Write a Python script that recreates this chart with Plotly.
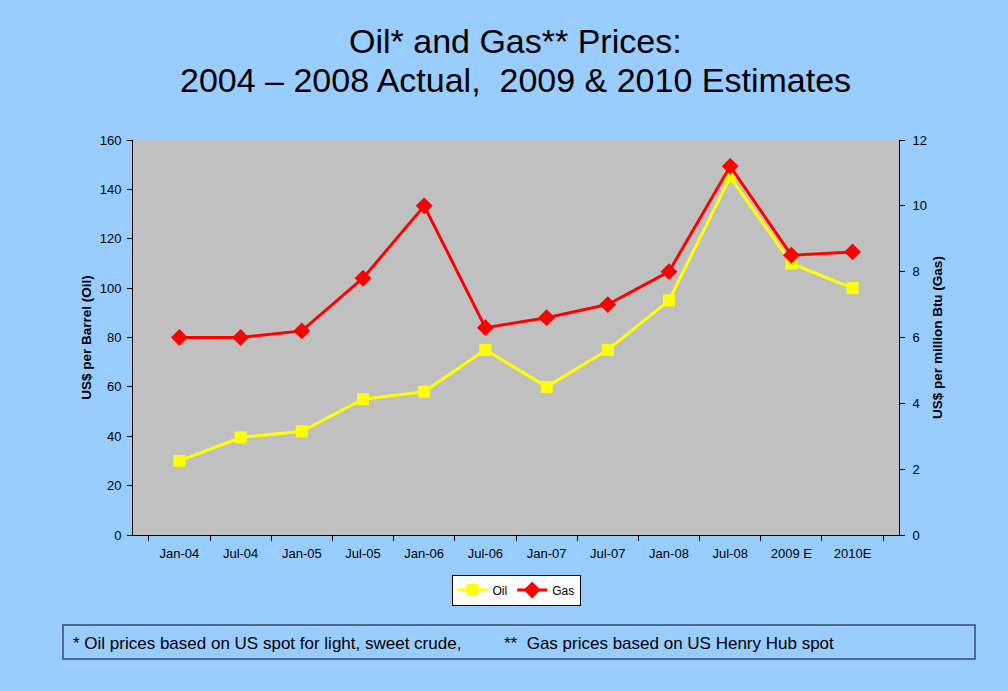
import plotly.graph_objects as go

categories = ["Jan-04", "Jul-04", "Jan-05", "Jul-05", "Jan-06", "Jul-06",
              "Jan-07", "Jul-07", "Jan-08", "Jul-08", "2009 E", "2010E"]
oil = [30, 39.5, 42, 55, 58, 75, 60, 75, 95, 145, 110, 100]
gas = [6.0, 6.0, 6.2, 7.8, 10.0, 6.3, 6.6, 7.0, 8.0, 11.2, 8.5, 8.6]

title_lines = ["Oil* and Gas** Prices:", "2004 – 2008 Actual,\u00a0 2009 & 2010 Estimates"]
footnotes = ["* Oil prices based on US spot for light, sweet crude,",
             "**\u00a0 Gas prices based on US Henry Hub spot"]

FONT = "Liberation Sans, Arial, sans-serif"
L, R, T, B = 133, 109, 140, 156
PW, PH = 1008 - L - R, 691 - T - B

def px_x(p):
    return (p - L) / PW

def px_y(p):
    return (691 - B - p) / PH

fig = go.Figure()
fig.add_trace(go.Scatter(
    x=categories, y=oil, name="Oil", mode="lines+markers",
    line=dict(color="#FFFF00", width=3),
    marker=dict(symbol="square", size=12, color="#FFFF00"),
    yaxis="y"))
fig.add_trace(go.Scatter(
    x=categories, y=gas, name="Gas", mode="lines+markers",
    line=dict(color="#FF0000", width=3),
    marker=dict(symbol="diamond", size=13, color="#FF0000"),
    yaxis="y2"))

fig.update_layout(
    width=1008, height=691,
    margin=dict(l=L, r=R, t=T, b=B, autoexpand=False),
    paper_bgcolor="#99CCFF", plot_bgcolor="#C0C0C0",
    font=dict(family=FONT, color="#000000", size=13),
    xaxis=dict(type="category", showgrid=False, showline=True, linecolor="#000000",
               linewidth=1, ticks="outside", tickson="boundaries", ticklen=5,
               tickcolor="#000000", tickfont=dict(size=13), zeroline=False,
               ticklabelstandoff=6),
    yaxis=dict(range=[0, 160], dtick=20, showgrid=False, showline=True,
               linecolor="#000000", ticks="outside", ticklen=5, tickcolor="#000000",
               tickfont=dict(size=13), zeroline=False, ticklabelstandoff=3,
               title=dict(text="<b>US$ per Barrel (Oil)</b>", font=dict(size=13.5), standoff=4)),
    yaxis2=dict(range=[0, 12], dtick=2, overlaying="y", side="right", showgrid=False,
                showline=True, linecolor="#000000", ticks="outside", ticklen=5,
                tickcolor="#000000", tickfont=dict(size=13), zeroline=False,
                ticklabelstandoff=5,
                title=dict(text="<b>US$ per million Btu (Gas)</b>", font=dict(size=13.5), standoff=6)),
    legend=dict(orientation="h", x=px_x(516), xanchor="center", y=px_y(590), yanchor="middle",
                bgcolor="#FFFFFF", bordercolor="#000000", borderwidth=1,
                font=dict(size=12), itemwidth=30, tracegroupgap=0),
    showlegend=True,
)

fig.add_annotation(xref="paper", yref="paper", x=px_x(515), y=px_y(41),
                   xanchor="center", yanchor="middle", showarrow=False,
                   text=title_lines[0], font=dict(size=34, family=FONT))
fig.add_annotation(xref="paper", yref="paper", x=px_x(515), y=px_y(80),
                   xanchor="center", yanchor="middle", showarrow=False,
                   text=title_lines[1], font=dict(size=34, family=FONT))

fig.add_shape(type="rect", xref="paper", yref="paper",
              x0=px_x(63), x1=px_x(975), y0=px_y(659), y1=px_y(625),
              line=dict(color="#3A4A60", width=1.5), fillcolor="rgba(0,0,0,0)")
fig.add_annotation(xref="paper", yref="paper", x=px_x(71), y=px_y(643),
                   xanchor="left", yanchor="middle", showarrow=False,
                   text=footnotes[0], font=dict(size=17, family=FONT))
fig.add_annotation(xref="paper", yref="paper", x=px_x(502), y=px_y(643),
                   xanchor="left", yanchor="middle", showarrow=False,
                   text=footnotes[1], font=dict(size=17, family=FONT))

fig.write_html("out.html", config={"displayModeBar": False},
               post_script="document.body.style.margin='0px';document.body.style.background='#99CCFF';")
